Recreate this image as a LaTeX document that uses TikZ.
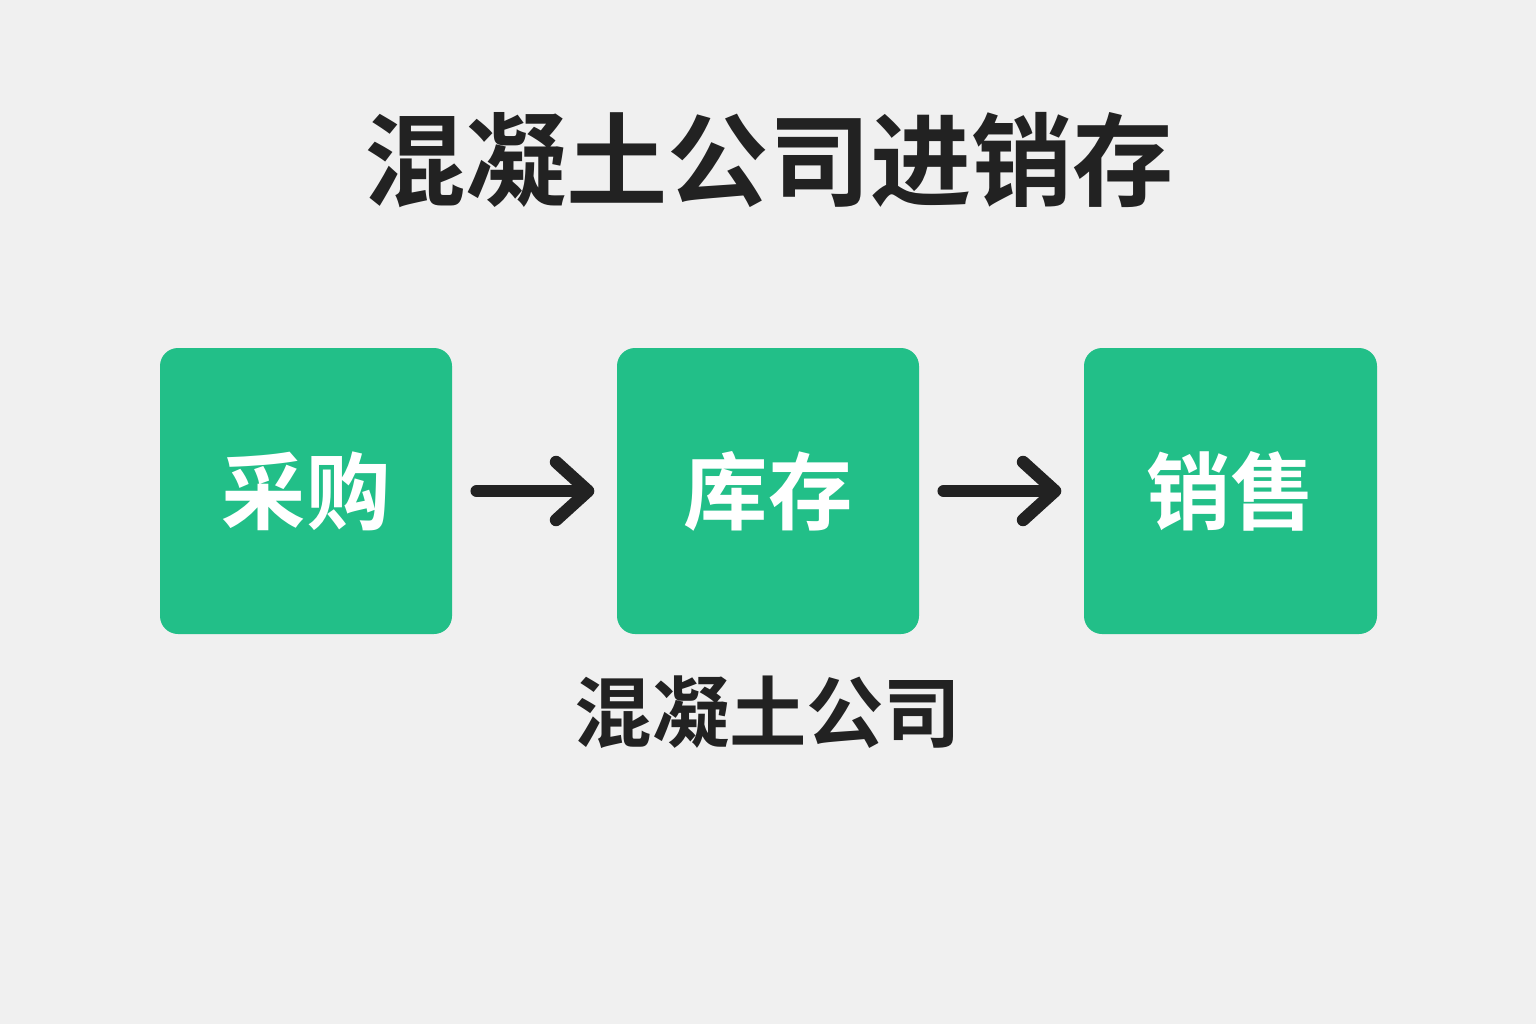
\documentclass[tikz,border=0pt]{standalone}
\usepackage{fontspec}
\usetikzlibrary{arrows.meta}
\newfontfamily\cjk{Noto Sans CJK SC Bold}
\definecolor{bgray}{HTML}{F0F0F0}
\definecolor{boxgreen}{HTML}{22BF88}
\definecolor{inkdark}{HTML}{222222}
\tikzset{
  stagebox/.style={fill=boxgreen, rounded corners=.18cm, minimum height=2.86cm,
    text=white, font=\cjk\fontsize{24}{28}\selectfont, inner sep=0pt},
  flowarrow/.style={draw=inkdark, line width=.125cm, line cap=round,
    -{Straight Barb[length=.32cm, width=.58cm, line cap=round, line join=round]},
    shorten <=.24cm, shorten >=.22cm}
}
\begin{document}
\begin{tikzpicture}
    \fill[bgray] (0,0) rectangle (15.36,10.24);
    \useasboundingbox (0,0) rectangle (15.36,10.24);
    \def \rowy {5.33}
    \node[text=inkdark, font=\cjk\fontsize{28.8}{34}\selectfont] (title) at (7.69,8.64) {混凝土公司进销存};
    \foreach \name/\x/\w/\txt in {buy/3.06/2.92/采购, store/7.68/3.02/库存, sell/12.305/2.93/销售}
    {
      \node[stagebox, minimum width=\w cm] (\name) at (\x,\rowy) {\txt};
    }
    \draw[flowarrow] (buy) -- (store);
    \draw[flowarrow] (store) -- (sell);
    \node[text=inkdark, font=\cjk\fontsize{22}{26}\selectfont] (company) at (7.68,3.12) {混凝土公司};
\end{tikzpicture}
\end{document}
